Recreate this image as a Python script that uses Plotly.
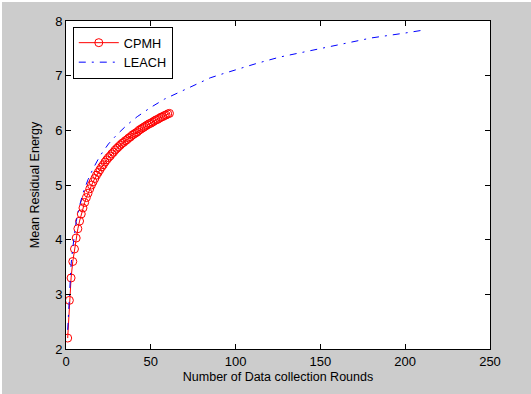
import plotly.graph_objects as go

# CPMH: one value per round, rounds 1..61
cpmh_rounds = list(range(1, 62))
cpmh_energy = [
    2.20, 2.89, 3.30, 3.60, 3.83, 4.03, 4.20, 4.34, 4.47, 4.58,
    4.68, 4.77, 4.85, 4.93, 5.00, 5.06, 5.12, 5.18, 5.23, 5.28,
    5.33, 5.37, 5.42, 5.46, 5.50, 5.53, 5.57, 5.60, 5.64, 5.67,
    5.70, 5.73, 5.76, 5.78, 5.81, 5.83, 5.86, 5.88, 5.91, 5.93,
    5.95, 5.97, 6.00, 6.02, 6.04, 6.06, 6.08, 6.10, 6.12, 6.13,
    6.15, 6.17, 6.19, 6.20, 6.22, 6.24, 6.25, 6.27, 6.28, 6.30,
    6.31,
]

# LEACH: sampled rounds
leach_rounds = [1, 2, 3, 4, 5, 6, 8, 10, 13, 16, 20, 25, 30, 36, 42, 50,
                58, 64, 71, 78, 85, 92, 100, 112, 126, 137, 150, 165, 180,
                200, 212]
leach_energy = [2.35, 3.05, 3.55, 3.85, 4.12, 4.33, 4.62, 4.85, 5.10, 5.30,
                5.53, 5.75, 5.92, 6.10, 6.25, 6.42, 6.57, 6.66, 6.76, 6.86,
                6.96, 7.03, 7.11, 7.22, 7.34, 7.41, 7.50, 7.60, 7.69, 7.78,
                7.84]

x_ticks = [0, 50, 100, 150, 200, 250]
y_ticks = [2, 3, 4, 5, 6, 7, 8]

FONT = "Liberation Sans, Arial, sans-serif"

fig = go.Figure()
fig.add_trace(go.Scatter(
    x=cpmh_rounds, y=cpmh_energy, name="CPMH", mode="lines+markers",
    line=dict(color="#ff0000", width=1),
    marker=dict(symbol="circle-open", size=8, color="#ff0000",
                line=dict(width=1, color="#ff0000")),
))
fig.add_trace(go.Scatter(
    x=leach_rounds, y=leach_energy, name="LEACH", mode="lines",
    line=dict(color="#0000ff", width=1, dash="7px,6px,2px,6px"),
))

axis_common = dict(
    showline=True, linecolor="black", linewidth=1, mirror="ticks",
    ticks="inside", ticklen=5, tickcolor="black", tickwidth=1,
    showgrid=False, zeroline=False,
    tickfont=dict(family=FONT, size=13, color="black"),
)

fig.update_xaxes(range=[0, 250], tickvals=x_ticks,
                 title=dict(text="Number of Data collection Rounds",
                            font=dict(family=FONT, size=12.5, color="black"),
                            standoff=4),
                 **axis_common)
fig.update_yaxes(range=[2, 8], tickvals=y_ticks,
                 title=dict(text="Mean Residual Energy",
                            font=dict(family=FONT, size=12.5, color="black"),
                            standoff=12),
                 **axis_common)

fig.update_layout(
    width=531, height=394,
    margin=dict(l=64, r=43, t=12, b=47),
    paper_bgcolor="#cccccc", plot_bgcolor="white",
    font=dict(family=FONT, size=12.5, color="black"),
    showlegend=True,
    legend=dict(x=0.016, y=0.982, xanchor="left", yanchor="top",
                bgcolor="white", bordercolor="black", borderwidth=1,
                font=dict(family=FONT, size=12.7, color="black"),
                itemwidth=40, tracegroupgap=0),
)

fig.write_html(
    "out.html",
    post_script="document.body.style.margin='2px 0 0 2px';"
                "document.body.style.overflow='hidden';"
                "document.documentElement.style.overflow='hidden';",
)
